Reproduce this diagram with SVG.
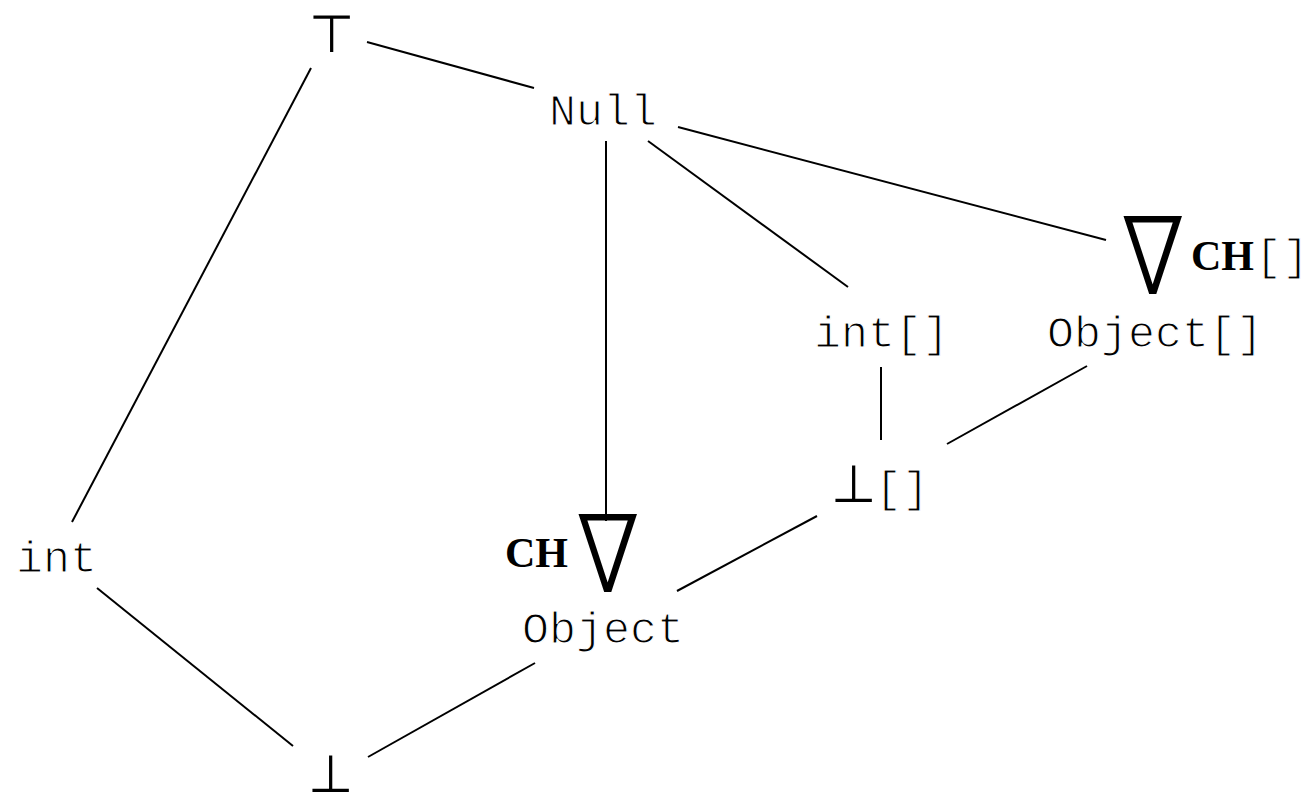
<svg xmlns="http://www.w3.org/2000/svg" width="1308" height="797" viewBox="0 0 1308 797">
<style>
.m{font-family:"Liberation Mono","DejaVu Sans Mono",monospace;font-size:45px;fill:#000;stroke:#fff;stroke-width:1.2px}
.s{font-family:"DejaVu Sans",sans-serif;font-size:52px;fill:#000;font-weight:200}
.ch{font-family:"Liberation Serif",serif;font-size:42px;font-weight:bold;fill:#000}
.n{font-family:"DejaVu Sans",sans-serif;font-size:80px;fill:#000;font-weight:200;stroke:#000;stroke-width:1.8px;stroke-linejoin:miter}
.e{stroke:#000;stroke-width:2;fill:none}
</style>
<rect width="1308" height="797" fill="#fff"/>
<g id="connectors" class="e">
<line x1="367" y1="42" x2="534" y2="88"/>
<line x1="311" y1="68" x2="72" y2="522"/>
<line x1="606" y1="141" x2="606" y2="521"/>
<line x1="648" y1="141" x2="848" y2="287"/>
<line x1="678" y1="127" x2="1106" y2="240"/>
<line x1="881" y1="367" x2="881" y2="440"/>
<line x1="1087" y1="366" x2="947" y2="444"/>
<line x1="817" y1="516" x2="677" y2="591"/>
<line x1="97" y1="588" x2="293" y2="746"/>
<line x1="535" y1="663" x2="368" y2="757"/>
</g>
<g id="top"><text class="s" x="331" y="52" text-anchor="middle">⊤</text></g>
<g id="null"><text class="m" x="549" y="125">Null</text></g>
<g id="intarr"><text class="m" x="814" y="347">int[]</text></g>
<g id="objarr">
<text class="m" x="1047" y="347">Object[]</text>
<text class="n" transform="translate(1153,293) scale(1.12,1.3)" text-anchor="middle">∇</text>
<text class="ch" x="1191" y="270">CH</text>
<text class="m" x="1255" y="270">[]</text>
</g>
<g id="botarr"><text class="s" x="853" y="502" text-anchor="middle">⊥</text><text class="m" x="875" y="502">[]</text></g>
<g id="int"><text class="m" x="16" y="572">int</text></g>
<g id="object">
<text class="m" x="522" y="643">Object</text>
<text class="n" transform="translate(608,591) scale(1.12,1.3)" text-anchor="middle">∇</text>
<text class="ch" x="505" y="567">CH</text>
</g>
<g id="bot"><text class="s" x="330" y="792" text-anchor="middle">⊥</text></g>
</svg>
